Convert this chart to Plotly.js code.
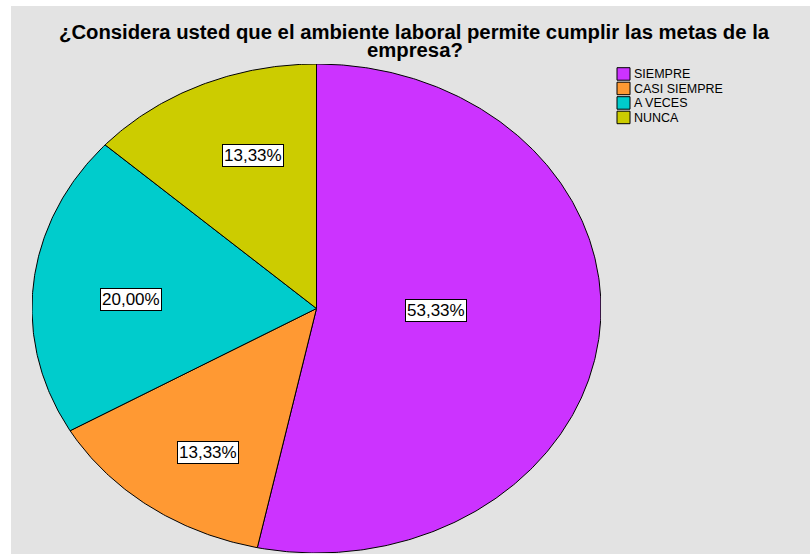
<!DOCTYPE html>
<html>
<head>
<meta charset="utf-8">
<script src="https://cdn.plot.ly/plotly-3.0.1.min.js"></script>
<style>html,body{margin:0;padding:0;background:#fff;}#chart{width:810px;height:554px;}</style>
</head>
<body>
<div id="chart"></div>
<script>
// ---- data ----
const categories = ['SIEMPRE', 'CASI SIEMPRE', 'A VECES', 'NUNCA'];
const percents = [53.33, 13.33, 20.00, 13.33];
const sliceLabels = ['53,33%', '13,33%', '20,00%', '13,33%'];
const titleLines = ['¿Considera usted que el ambiente laboral permite cumplir las metas de la', 'empresa?'];

// ---- styles / layout ----
const colors = ['#cc33ff', '#ff9933', '#00cccc', '#cccc00'];
const labelPos = [[0.42, -0.01], [-0.383, -0.587], [-0.652, 0.035], [-0.224, 0.627]]; // label centres in unit pie coords
const FONT = 'Liberation Sans, Arial, Helvetica, sans-serif';
const L = 32, R = 601, T = 64, B = 553, W = 810, H = 554;
const px = p => (p - L) / (R - L);
const py = p => (B - p) / (B - T);

// ---- wedges (elliptical pie via axis scaling) ----
const total = percents.reduce((a, b) => a + b, 0);
const traces = [];
let cum = 0;
percents.forEach((v, i) => {
  const a0 = 2 * Math.PI * cum / total;
  const a1 = 2 * Math.PI * (cum + v) / total;
  cum += v;
  const xs = [0], ys = [0];
  const n = Math.max(4, Math.ceil((a1 - a0) / (Math.PI / 360)));
  for (let k = 0; k <= n; k++) {
    const a = a0 + (a1 - a0) * k / n;
    xs.push(Math.sin(a)); ys.push(Math.cos(a));
  }
  xs.push(0); ys.push(0);
  traces.push({
    type: 'scatter', mode: 'lines', x: xs, y: ys, fill: 'toself',
    fillcolor: colors[i], line: {color: '#000', width: 1}, name: categories[i],
    hoverinfo: 'skip', cliponaxis: false
  });
});

const shapes = [{
  type: 'rect', xref: 'paper', yref: 'paper', layer: 'below',
  x0: px(11), x1: px(W + 2), y0: py(H + 2), y1: py(6),
  fillcolor: '#e3e3e3', line: {width: 0}
}];
const annotations = [];

// title
annotations.push({xref: 'paper', yref: 'paper', x: px(414), y: py(31.5), xanchor: 'center', yanchor: 'middle',
  text: '<b>' + titleLines[0] + '</b>', showarrow: false, font: {family: FONT, size: 20.3, color: '#000'}});
annotations.push({xref: 'paper', yref: 'paper', x: px(415), y: py(50), xanchor: 'center', yanchor: 'middle',
  text: '<b>' + titleLines[1] + '</b>', showarrow: false, font: {family: FONT, size: 20.3, color: '#000'}});

// slice labels
sliceLabels.forEach((t, i) => {
  annotations.push({xref: 'x', yref: 'y', x: labelPos[i][0], y: labelPos[i][1], text: t, showarrow: false,
    xanchor: 'center', yanchor: 'middle', bgcolor: '#fff', bordercolor: '#000', borderwidth: 1, borderpad: 1,
    font: {family: FONT, size: 17, color: '#000'}});
});

// legend
categories.forEach((c, i) => {
  const top = 67.7 + i * 14.5;
  shapes.push({type: 'rect', xref: 'paper', yref: 'paper', x0: px(617), x1: px(630), y0: py(top + 12.5), y1: py(top),
    fillcolor: colors[i], line: {color: '#000', width: 1}});
  annotations.push({xref: 'paper', yref: 'paper', x: px(632), y: py(top + 6.5), xanchor: 'left', yanchor: 'middle',
    text: c, showarrow: false, font: {family: FONT, size: 12.5, color: '#000'}});
});

const layout = {
  width: W, height: H,
  margin: {l: L, r: W - R, t: T, b: H - B, pad: 0},
  paper_bgcolor: '#ffffff', plot_bgcolor: 'rgba(0,0,0,0)',
  showlegend: false,
  xaxis: {range: [-1, 1], visible: false, fixedrange: true},
  yaxis: {range: [-1, 1], visible: false, fixedrange: true},
  shapes: shapes, annotations: annotations
};

Plotly.newPlot('chart', traces, layout, {staticPlot: true, displayModeBar: false});
</script>
</body>
</html>
